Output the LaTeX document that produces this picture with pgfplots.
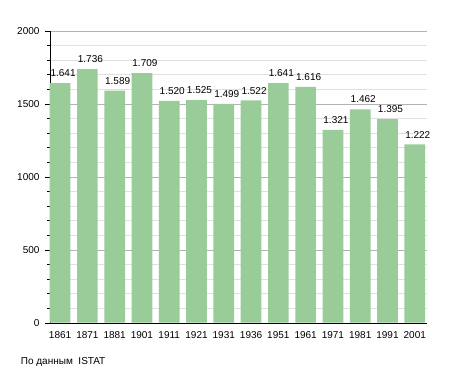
\documentclass[border=0pt]{standalone}
\usepackage{fontspec}
\setmainfont{Liberation Sans}
\usepackage{pgfplots}
\pgfplotsset{compat=1.18}
\definecolor{bargreen}{RGB}{153,204,153}
\begin{document}
\begin{tikzpicture}[font=\fontsize{10}{12}\selectfont]
\path[use as bounding box] (-50pt,-50.3pt) rectangle (405pt,322.7pt);
\begin{axis}[
 at={(0,0)}, anchor=south west, scale only axis,
 width=376.5pt, height=292pt,
 xmin=-0.37, xmax=13.43, ymin=0, ymax=2000,
 axis x line*=bottom, axis y line*=left,
 axis line style={black, -},
 xtick={0,...,13},
 xticklabels={1861,1871,1881,1901,1911,1921,1931,1936,1951,1961,1971,1981,1991,2001},
 x tick style={draw=none},
 ytick={0,500,1000,1500,2000},
 minor y tick num=4,
 tick align=outside,
 major tick length=5pt, minor tick length=2.5pt,
 y tick style={black},
 yticklabel style={xshift=-2pt},
 ymajorgrids, yminorgrids,
 major grid style={black!30},
 minor grid style={black!12},
 /pgf/number format/assume math mode=true,
 /pgf/number format/1000 sep={},
 clip=false,
 ybar, bar width=20.7pt,
 nodes near coords={\pgfmathprintnumber[1000 sep={.}]{\pgfplotspointmeta}},
 every node near coord/.append style={anchor=south, inner sep=0pt, yshift=6pt, xshift=3pt, font=\fontsize{10}{12}\selectfont, text=black},
]
\addplot[fill=bargreen, draw=none] coordinates {
(0,1641) (1,1736) (2,1589) (3,1709) (4,1520) (5,1525) (6,1499)
(7,1522) (8,1641) (9,1616) (10,1321) (11,1462) (12,1395) (13,1222)};
\end{axis}
\node[anchor=west, inner sep=0pt] at (-29.3pt,-39pt) {По данным\ \ ISTAT};
\end{tikzpicture}
\end{document}
